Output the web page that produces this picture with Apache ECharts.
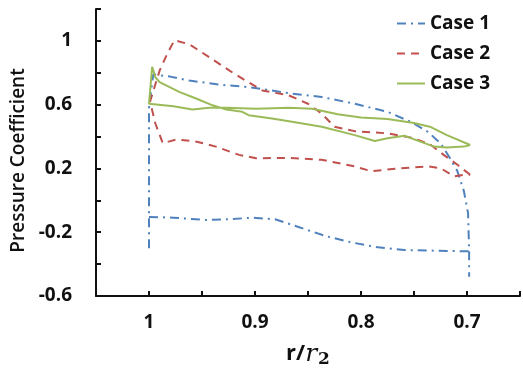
<!DOCTYPE html>
<html>
<head>
<meta charset="utf-8">
<script src="https://cdn.jsdelivr.net/npm/echarts@6/dist/echarts.min.js"></script>
<style>html,body{margin:0;padding:0;background:#fff;}#c{width:523px;height:373px;}</style>
</head>
<body>
<div id="c"></div>
<script>
// x = r/r2, y = pressure coefficient
const seriesNames = ['Case 1', 'Case 2', 'Case 3'];
const xTickLabels = ['1', '0.9', '0.8', '0.7'];
const yTickLabels = ['-0.6', '-0.2', '0.2', '0.6', '1'];

// Case 1 (dash-dot): upper branch including both end tails, then lower branch
const case1Upper = [[1.0,-0.30],[1.0,0.58],[0.996,0.79],[0.980,0.776],[0.962,0.751],[0.931,0.724],[0.906,0.710],[0.884,0.689],[0.868,0.672],[0.837,0.648],[0.806,0.606],[0.775,0.555],[0.753,0.492],[0.737,0.430],[0.725,0.358],[0.716,0.264],[0.709,0.182],[0.703,0.06],[0.699,-0.08],[0.698,-0.32],[0.698,-0.48]];
const case1Lower = [[1.0,-0.104],[0.977,-0.109],[0.946,-0.123],[0.927,-0.119],[0.902,-0.109],[0.881,-0.119],[0.859,-0.167],[0.834,-0.223],[0.809,-0.264],[0.784,-0.295],[0.759,-0.312],[0.728,-0.316],[0.698,-0.32]];

// Case 2 (dashed)
const case2Upper = [[0.999,0.62],[0.990,0.813],[0.983,0.917],[0.976,1.004],[0.962,0.979],[0.943,0.897],[0.924,0.813],[0.909,0.751],[0.893,0.689],[0.868,0.658],[0.850,0.606],[0.837,0.544],[0.825,0.461],[0.806,0.434],[0.775,0.420],[0.750,0.389],[0.734,0.347],[0.722,0.285],[0.709,0.223],[0.697,0.160]];
const case2Lower = [[0.999,0.62],[0.994,0.482],[0.987,0.358],[0.974,0.382],[0.955,0.368],[0.937,0.337],[0.915,0.285],[0.899,0.264],[0.868,0.266],[0.837,0.254],[0.806,0.213],[0.790,0.182],[0.768,0.198],[0.737,0.213],[0.725,0.202],[0.712,0.150],[0.703,0.160],[0.697,0.160]];

// Case 3 (solid)
const case3Flat = [[1.0,0.606],[0.977,0.590],[0.959,0.569],[0.943,0.581],[0.927,0.580],[0.899,0.575],[0.868,0.580],[0.846,0.575],[0.822,0.540],[0.800,0.520],[0.775,0.510],[0.750,0.485],[0.735,0.462],[0.719,0.409],[0.697,0.347]];
const case3Spike = [[0.997,0.838]];
const case3Falling = [[0.994,0.772],[0.990,0.741],[0.971,0.679],[0.955,0.637],[0.940,0.596],[0.927,0.569],[0.912,0.555],[0.906,0.534],[0.884,0.513],[0.868,0.496],[0.837,0.461],[0.806,0.409],[0.787,0.372],[0.775,0.389],[0.759,0.405],[0.744,0.368],[0.731,0.337],[0.719,0.331],[0.703,0.337],[0.697,0.347]];

const case1Data = case1Upper.concat([['-','-']], case1Lower);
const case2Data = case2Upper.slice().reverse().concat(case2Lower.slice(1));
const case3Data = case3Flat.slice().reverse().concat(case3Spike, case3Falling);

const FONT = 'Open Sans';
const chart = echarts.init(document.getElementById('c'), null, {renderer: 'canvas'});

function fmt(v) { return Number(v.toFixed(2)).toString(); }

chart.setOption({
  animation: false,
  backgroundColor: '#fff',
  grid: {left: 96, right: 1, top: 9, bottom: 74},
  legend: {
    orient: 'vertical', left: 391, top: 9, itemWidth: 28, itemHeight: 14, itemGap: 11,
    data: seriesNames,
    itemStyle: {opacity: 0},
    textStyle: {fontFamily: FONT, fontSize: 19, fontWeight: 'bold', color: '#111'}
  },
  xAxis: {
    type: 'value', inverse: true, min: 0.65, max: 1.05, interval: 0.05,
    name: '{a|r/}{i|r}{s|2}', nameLocation: 'middle', nameGap: 44,
    nameTextStyle: {
      rich: {
        a: {fontFamily: FONT, fontSize: 22, fontWeight: 'bold', color: '#111'},
        i: {fontFamily: 'DejaVu Serif', fontSize: 25, fontStyle: 'italic', color: '#111'},
        s: {fontFamily: 'DejaVu Serif', fontSize: 17, fontWeight: 'bold', color: '#111', padding: [11, 0, 0, 1]}
      }
    },
    splitLine: {show: false},
    axisLine: {onZero: false, lineStyle: {color: '#111', width: 2}},
    axisTick: {inside: true, length: 5, lineStyle: {color: '#111', width: 2}},
    axisLabel: {
      margin: 17, fontFamily: FONT, fontSize: 19, fontWeight: 'bold', color: '#111',
      formatter: function (v) { const s = fmt(v); return xTickLabels.indexOf(s) >= 0 ? s : ''; }
    }
  },
  yAxis: {
    type: 'value', min: -0.6, max: 1.2, interval: 0.2,
    name: 'Pressure Coefficient', nameLocation: 'middle', nameGap: 62,
    nameTextStyle: {fontFamily: FONT, fontSize: 19, fontWeight: 600, color: '#111', padding: [0, 16, 0, 0]},
    splitLine: {show: false},
    axisLine: {onZero: false, lineStyle: {color: '#111', width: 2}},
    axisTick: {inside: true, length: 5, lineStyle: {color: '#111', width: 2}},
    axisLabel: {
      margin: 24, fontFamily: FONT, fontSize: 19, fontWeight: 'bold', color: '#111',
      formatter: function (v) { const s = fmt(v); return yTickLabels.indexOf(s) >= 0 ? s : ''; }
    }
  },
  series: [
    {name: seriesNames[0], type: 'line', symbol: 'none', data: case1Data, connectNulls: false,
     color: '#4f81bd', lineStyle: {color: '#4f81bd', width: 2, type: [9, 5, 2, 5]}},
    {name: seriesNames[1], type: 'line', symbol: 'none', data: case2Data,
     color: '#c0504d', lineStyle: {color: '#c0504d', width: 2, type: [8, 6]}},
    {name: seriesNames[2], type: 'line', symbol: 'none', data: case3Data,
     color: '#9bbb59', lineStyle: {color: '#9bbb59', width: 2, type: 'solid'}}
  ]
});
</script>
</body>
</html>
